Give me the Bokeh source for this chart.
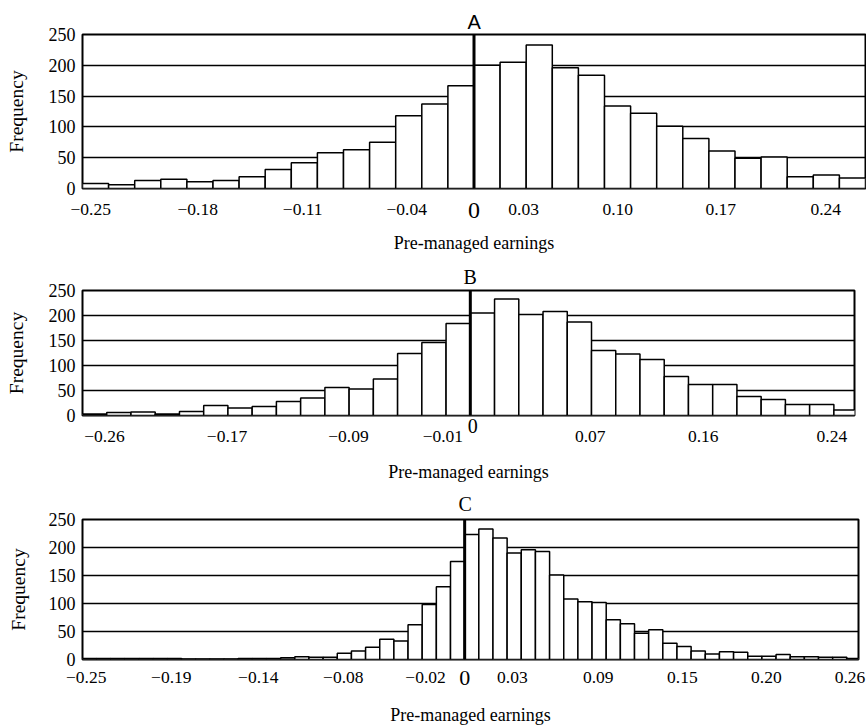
from bokeh.plotting import figure
from bokeh.layouts import column
from bokeh.models import Range1d, FixedTicker, Span, ColumnDataSource, LinearAxis
from bokeh.embed import file_html
from bokeh.resources import INLINE

# ---------------- data ----------------
# Panel A: 30 bins
a_counts = [8, 6, 13, 15, 11, 13, 19, 31, 42, 58, 63, 75, 118, 137, 167,
            200, 205, 233, 196, 184, 134, 122, 101, 81, 61, 49, 51, 19, 22, 17]
a_first_edge = -0.261
a_bin_width = 0.0174
a_xrange = (-0.261, 0.261)
a_tick_pos = [-0.2555, -0.1842, -0.1142, -0.0449, 0.0331, 0.0958, 0.1645, 0.2345]
a_tick_labels = ["\u22120.25", "\u22120.18", "\u22120.11", "\u22120.04", "0.03", "0.10", "0.17", "0.24"]
a_zero_pos = 0.0

# Panel B: 32 bins
b_counts = [3, 6, 7, 3, 8, 20, 15, 18, 28, 35, 56, 53, 73, 124, 146, 184,
            205, 233, 202, 208, 187, 130, 123, 112, 78, 62, 62, 38, 32, 22, 22, 11]
b_first_edge = -0.2672
b_bin_width = 0.0167
b_xrange = (-0.2672, 0.2647)
b_tick_pos = [-0.2521, -0.1676, -0.0840, -0.0189, 0.0826, 0.1605, 0.2491]
b_tick_labels = ["\u22120.26", "\u22120.17", "\u22120.09", "\u22120.01", "0.07", "0.16", "0.24"]
b_zero_pos = 0.0017

# Panel C: 55 bins
c_counts = [2, 2, 2, 2, 2, 2, 2, 1, 1, 1, 1, 2, 2, 2, 3, 5, 4, 4, 11, 15, 22, 36, 33, 62, 98, 130, 175,
            223, 233, 217, 190, 196, 193, 151, 108, 103, 102, 71, 64, 47, 53, 29, 23, 15, 10, 14, 13,
            6, 6, 9, 5, 5, 4, 4, 2]
c_first_edge = -0.2552
c_bin_width = 0.009452
c_xrange = (-0.2552, 0.263)
c_tick_pos = [-0.2527, -0.1959, -0.1378, -0.0810, -0.0261, 0.0319, 0.0892, 0.1454, 0.2015, 0.2573]
c_tick_labels = ["\u22120.25", "\u22120.19", "\u22120.14", "\u22120.08", "\u22120.02", "0.03", "0.09", "0.15", "0.20", "0.26"]
c_zero_pos = 0.0

y_ticks = [0, 50, 100, 150, 200, 250]
grid_ticks = [50, 100, 150, 200]
x_title = "Pre-managed earnings"
y_title = "Frequency"

SERIF = "Liberation Serif"


def style_axis(ax):
    ax.major_tick_out = 0
    ax.major_tick_in = 0
    ax.minor_tick_line_color = None
    ax.axis_line_color = None
    ax.major_label_text_font = SERIF
    ax.major_label_text_color = "black"


def panel(counts, first_edge, bw, xr, tick_pos, tick_labels, zero_pos,
          letter, letter_font, letter_offset, letter_standoff,
          zero_size, zero_standoff, xlab_standoff,
          fw, fh, ml, mr, mt, mb, tick_standoff, ylab_standoff):
    lefts = [first_edge + i * bw for i in range(len(counts))]
    rights = [l + bw for l in lefts]
    src = ColumnDataSource(dict(left=lefts, right=rights, top=counts))
    p = figure(frame_width=fw, frame_height=fh, min_border_left=ml, min_border_right=mr,
               min_border_top=mt, min_border_bottom=mb,
               x_range=Range1d(*xr), y_range=Range1d(0, 250),
               output_backend="svg", toolbar_location=None, tools="")
    p.background_fill_color = "white"
    p.border_fill_color = "white"
    p.outline_line_color = "black"
    p.outline_line_width = 2
    p.quad(left="left", right="right", bottom=0, top="top", source=src,
           fill_color="white", line_color="black", line_width=1.5)
    p.add_layout(Span(location=0, dimension="height", line_color="black", line_width=3))

    p.xgrid.visible = False
    p.ygrid.ticker = FixedTicker(ticks=grid_ticks)
    p.ygrid.grid_line_color = "black"
    p.ygrid.grid_line_width = 1.3

    # panel letter
    p.title.text = letter
    p.title.align = "left"
    p.title.offset = letter_offset
    p.title.standoff = letter_standoff
    p.title.vertical_align = "bottom"
    p.title.text_font = letter_font
    p.title.text_font_size = "20px"
    p.title.text_font_style = "normal"
    p.title.text_color = "black"

    # regular x tick labels
    xa = p.xaxis[0]
    style_axis(xa)
    xa.ticker = FixedTicker(ticks=tick_pos)
    xa.major_label_overrides = {t: l for t, l in zip(tick_pos, tick_labels)}
    xa.major_label_text_font_size = "17.5px"
    xa.major_label_standoff = tick_standoff

    # the larger "0" at the zero line, plus the axis title
    za = LinearAxis(ticker=FixedTicker(ticks=[zero_pos]),
                    major_label_overrides={zero_pos: "0"})
    style_axis(za)
    za.major_label_text_font_size = zero_size
    za.major_label_standoff = zero_standoff
    za.axis_label = x_title
    za.axis_label_text_font = SERIF
    za.axis_label_text_font_size = "18px"
    za.axis_label_text_font_style = "normal"
    za.axis_label_text_color = "black"
    za.axis_label_standoff = xlab_standoff
    p.add_layout(za, "below")

    ya = p.yaxis[0]
    style_axis(ya)
    ya.ticker = FixedTicker(ticks=y_ticks)
    ya.major_label_text_font_size = "18px"
    ya.major_label_standoff = 7
    ya.axis_label = y_title
    ya.axis_label_text_font = SERIF
    ya.axis_label_text_font_style = "normal"
    ya.axis_label_text_font_size = "19.5px"
    ya.axis_label_text_color = "black"
    ya.axis_label_standoff = ylab_standoff
    return p


pA = panel(a_counts, a_first_edge, a_bin_width, a_xrange, a_tick_pos, a_tick_labels, a_zero_pos,
           "A", "Liberation Sans", 385, 4, "24px", -15, 12,
           fw=783, fh=154, ml=82, mr=1, mt=34, mb=66, tick_standoff=15, ylab_standoff=19)
pB = panel(b_counts, b_first_edge, b_bin_width, b_xrange, b_tick_pos, b_tick_labels, b_zero_pos,
           "B", SERIF, 381, 5, "20px", -26, 26,
           fw=772, fh=125, ml=82, mr=12, mt=35, mb=70, tick_standoff=15, ylab_standoff=19)
pC = panel(c_counts, c_first_edge, c_bin_width, c_xrange, c_tick_pos, c_tick_labels, c_zero_pos,
           "C", SERIF, 376, 10, "22px", -15, 17,
           fw=776, fh=140, ml=80, mr=10, mt=34, mb=68, tick_standoff=12, ylab_standoff=17)

layout = column(pA, pB, pC, spacing=0)
open("out.html", "w").write(file_html(layout, INLINE))
